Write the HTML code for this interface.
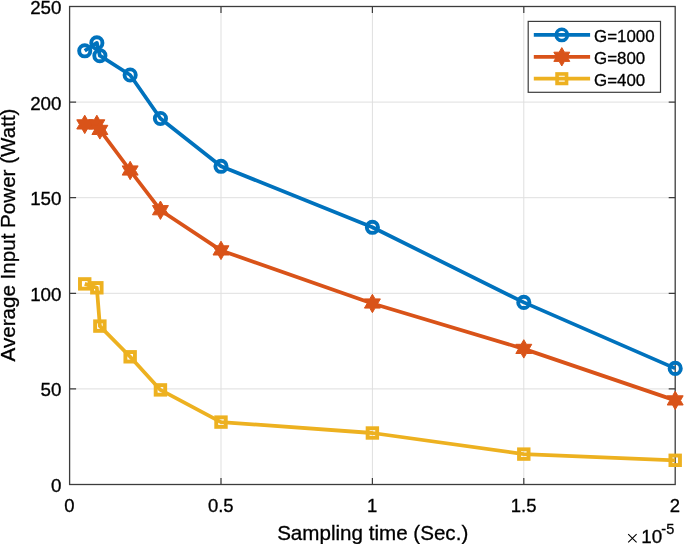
<!DOCTYPE html><html><head><meta charset="utf-8"><style>html,body{margin:0;padding:0;background:#fff;}svg{display:block;will-change:transform}text{font-family:"Liberation Sans",sans-serif;stroke:#000;stroke-width:0.3px;}</style></head><body>
<svg width="685" height="544" viewBox="0 0 685 544">
<rect width="685" height="544" fill="#fff"/>
<path d="M221.00 6.50V484.50M372.40 6.50V484.50M523.80 6.50V484.50M69.60 388.90H675.20M69.60 293.30H675.20M69.60 197.70H675.20M69.60 102.10H675.20" stroke="#dfdfdf" stroke-width="1" fill="none"/>
<path d="M221.00 484.50v-6.50M221.00 6.50v6.50M372.40 484.50v-6.50M372.40 6.50v6.50M523.80 484.50v-6.50M523.80 6.50v6.50M69.60 388.90h6.50M675.20 388.90h-6.50M69.60 293.30h6.50M675.20 293.30h-6.50M69.60 197.70h6.50M675.20 197.70h-6.50M69.60 102.10h6.50M675.20 102.10h-6.50" stroke="#3c3c3c" stroke-width="1.2" fill="none"/>
<rect x="69.60" y="6.50" width="605.60" height="478.00" stroke="#3c3c3c" stroke-width="1.3" fill="none"/>
<polyline points="84.74,50.80 96.85,42.90 99.88,55.70 130.16,75.00 160.44,118.50 221.00,166.30 372.40,227.30 523.80,302.40 675.20,368.40" stroke="#0072BD" stroke-width="3.76" fill="none" stroke-linejoin="round" stroke-linecap="butt"/>
<polyline points="84.74,124.40 96.85,124.40 99.88,129.90 130.16,170.50 160.44,210.20 221.00,250.40 372.40,303.50 523.80,348.90 675.20,400.40" stroke="#D95319" stroke-width="3.76" fill="none" stroke-linejoin="round" stroke-linecap="butt"/>
<polyline points="84.74,283.90 96.85,287.80 99.88,326.10 130.16,356.80 160.44,389.90 221.00,422.10 372.40,433.00 523.80,454.10 675.20,460.30" stroke="#EDB120" stroke-width="3.76" fill="none" stroke-linejoin="round" stroke-linecap="butt"/>
<g fill="none" stroke="#0072BD" stroke-width="3.9">
<circle cx="84.74" cy="50.80" r="5.6"/>
<circle cx="96.85" cy="42.90" r="5.6"/>
<circle cx="99.88" cy="55.70" r="5.6"/>
<circle cx="130.16" cy="75.00" r="5.6"/>
<circle cx="160.44" cy="118.50" r="5.6"/>
<circle cx="221.00" cy="166.30" r="5.6"/>
<circle cx="372.40" cy="227.30" r="5.6"/>
<circle cx="523.80" cy="302.40" r="5.6"/>
<circle cx="675.20" cy="368.40" r="5.6"/>
</g>
<g fill="#D95319" stroke="#D95319" stroke-width="1" stroke-linejoin="miter">
<polygon points="84.74,115.20 87.40,119.80 92.71,119.80 90.05,124.40 92.71,129.00 87.40,129.00 84.74,133.60 82.08,129.00 76.77,129.00 79.43,124.40 76.77,119.80 82.08,119.80"/>
<polygon points="96.85,115.20 99.51,119.80 104.82,119.80 102.16,124.40 104.82,129.00 99.51,129.00 96.85,133.60 94.20,129.00 88.88,129.00 91.54,124.40 88.88,119.80 94.20,119.80"/>
<polygon points="99.88,120.70 102.54,125.30 107.85,125.30 105.19,129.90 107.85,134.50 102.54,134.50 99.88,139.10 97.22,134.50 91.91,134.50 94.57,129.90 91.91,125.30 97.22,125.30"/>
<polygon points="130.16,161.30 132.82,165.90 138.13,165.90 135.47,170.50 138.13,175.10 132.82,175.10 130.16,179.70 127.50,175.10 122.19,175.10 124.85,170.50 122.19,165.90 127.50,165.90"/>
<polygon points="160.44,201.00 163.10,205.60 168.41,205.60 165.75,210.20 168.41,214.80 163.10,214.80 160.44,219.40 157.78,214.80 152.47,214.80 155.13,210.20 152.47,205.60 157.78,205.60"/>
<polygon points="221.00,241.20 223.66,245.80 228.97,245.80 226.31,250.40 228.97,255.00 223.66,255.00 221.00,259.60 218.34,255.00 213.03,255.00 215.69,250.40 213.03,245.80 218.34,245.80"/>
<polygon points="372.40,294.30 375.06,298.90 380.37,298.90 377.71,303.50 380.37,308.10 375.06,308.10 372.40,312.70 369.74,308.10 364.43,308.10 367.09,303.50 364.43,298.90 369.74,298.90"/>
<polygon points="523.80,339.70 526.46,344.30 531.77,344.30 529.11,348.90 531.77,353.50 526.46,353.50 523.80,358.10 521.14,353.50 515.83,353.50 518.49,348.90 515.83,344.30 521.14,344.30"/>
<polygon points="675.20,391.20 677.86,395.80 683.17,395.80 680.51,400.40 683.17,405.00 677.86,405.00 675.20,409.60 672.54,405.00 667.23,405.00 669.89,400.40 667.23,395.80 672.54,395.80"/>
</g>
<g fill="none" stroke="#EDB120" stroke-width="3.9">
<rect x="79.99" y="279.15" width="9.50" height="9.50"/>
<rect x="92.10" y="283.05" width="9.50" height="9.50"/>
<rect x="95.13" y="321.35" width="9.50" height="9.50"/>
<rect x="125.41" y="352.05" width="9.50" height="9.50"/>
<rect x="155.69" y="385.15" width="9.50" height="9.50"/>
<rect x="216.25" y="417.35" width="9.50" height="9.50"/>
<rect x="367.65" y="428.25" width="9.50" height="9.50"/>
<rect x="519.05" y="449.35" width="9.50" height="9.50"/>
<rect x="670.45" y="455.55" width="9.50" height="9.50"/>
</g>
<g fill="#000" font-size="18.80">
<text transform="translate(61.5 491.95) scale(1 1.02)" text-anchor="end">0</text>
<text transform="translate(61.5 396.35) scale(1 1.02)" text-anchor="end">50</text>
<text transform="translate(61.5 300.75) scale(1 1.02)" text-anchor="end">100</text>
<text transform="translate(61.5 205.15) scale(1 1.02)" text-anchor="end">150</text>
<text transform="translate(61.5 109.55) scale(1 1.02)" text-anchor="end">200</text>
<text transform="translate(61.5 13.95) scale(1 1.02)" text-anchor="end">250</text>
<text transform="translate(69.40 511.9) scale(0.985 1.02)" text-anchor="middle">0</text>
<text transform="translate(220.80 511.9) scale(0.985 1.02)" text-anchor="middle">0.5</text>
<text transform="translate(372.20 511.9) scale(0.985 1.02)" text-anchor="middle">1</text>
<text transform="translate(523.60 511.9) scale(0.985 1.02)" text-anchor="middle">1.5</text>
<text transform="translate(675.00 511.9) scale(0.985 1.02)" text-anchor="middle">2</text>
</g>
<path d="M628.2 534.1L636.6 542.4M636.6 534.1L628.2 542.4" stroke="#000" stroke-width="1.1"/>
<text x="641.2" y="543" font-size="18.8" fill="#000">10</text>
<text x="661.3" y="534" font-size="14.5" fill="#000">-5</text>
<text x="372.7" y="539.6" text-anchor="middle" font-size="20.60" fill="#000">Sampling time (Sec.)</text>
<text transform="translate(15.1 235) rotate(-90)" text-anchor="middle" font-size="20.60" fill="#000">Average Input Power (Watt)</text>
<rect x="528.20" y="21.40" width="132.30" height="70.90" fill="#fff" stroke="#3c3c3c" stroke-width="1.2"/>
<line x1="533.8" y1="34.90" x2="590.1" y2="34.90" stroke="#0072BD" stroke-width="3.76"/>
<circle cx="561.8" cy="34.90" r="5.6" fill="none" stroke="#0072BD" stroke-width="3.6"/>
<text x="594" y="41.70" font-size="16.90" fill="#000">G=1000</text>
<line x1="533.8" y1="56.80" x2="590.1" y2="56.80" stroke="#D95319" stroke-width="3.76"/>
<g fill="#D95319" stroke="#D95319" stroke-width="1"><polygon points="561.80,47.60 564.46,52.20 569.77,52.20 567.11,56.80 569.77,61.40 564.46,61.40 561.80,66.00 559.14,61.40 553.83,61.40 556.49,56.80 553.83,52.20 559.14,52.20"/></g>
<text x="594" y="64.00" font-size="16.90" fill="#000">G=800</text>
<line x1="533.8" y1="78.70" x2="590.1" y2="78.70" stroke="#EDB120" stroke-width="3.76"/>
<rect x="557.05" y="73.95" width="9.50" height="9.50" fill="none" stroke="#EDB120" stroke-width="3.6"/>
<text x="594" y="86.20" font-size="16.90" fill="#000">G=400</text>
</svg></body></html>
